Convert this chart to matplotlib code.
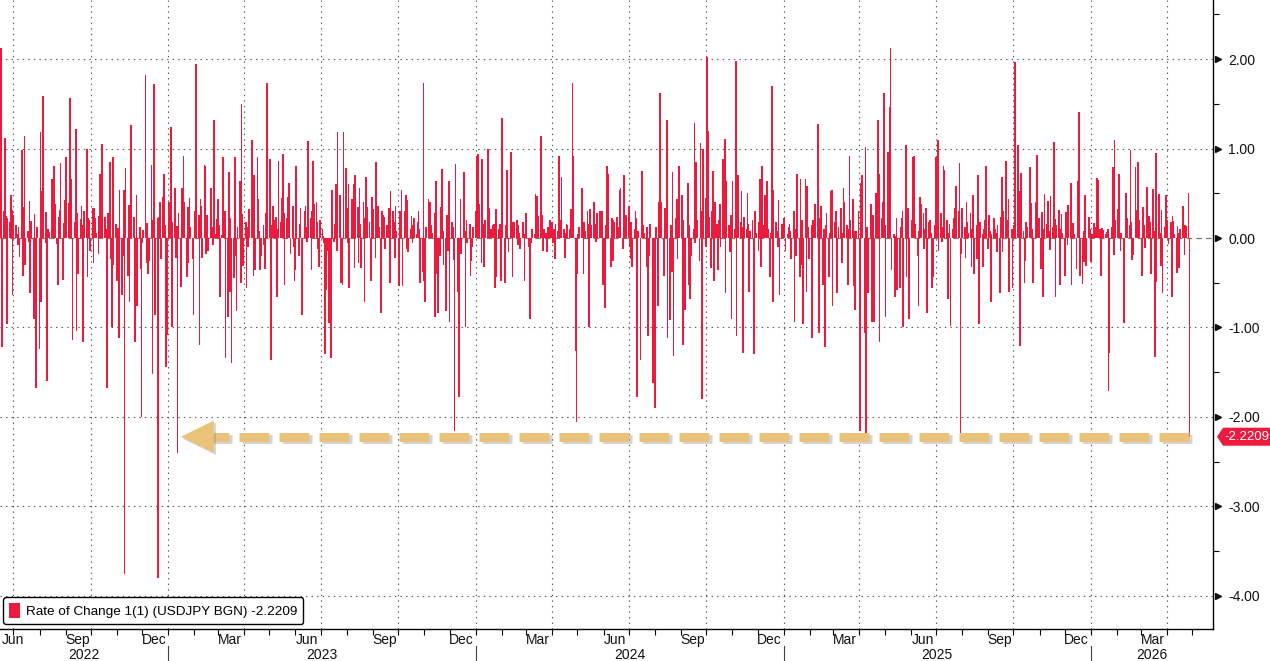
import numpy as np
import pandas as pd
import matplotlib
matplotlib.use("Agg")
import matplotlib.pyplot as plt
import matplotlib.dates as mdates
import matplotlib.transforms as mtransforms
import matplotlib.patheffects as pe
from matplotlib.patches import Patch, Polygon
from matplotlib.ticker import NullFormatter

plt.rcParams['font.family'] = ['Liberation Sans', 'DejaVu Sans']
plt.rcParams['axes.unicode_minus'] = False
plt.rcParams['lines.scale_dashes'] = False

# daily rate of change, USDJPY (%) in six stretches
roc_a = [
    2.12, -1.22, 0.30, 1.12, 0.25, -0.96, 0.22, 0.18, 0.48, 0.31,
    -0.64, 0.26, 0.14, 0.05, -0.08, 0.12, -0.21, 0.98, -0.42, 0.35,
    1.14, -0.30, 0.08, -0.05, 0.41, -0.62, 0.19, -0.90, 0.27, -0.55,
    -1.68, 0.12, -1.24, 1.18, -0.72, 0.52, 1.59, -0.06, 0.29, -1.60,
    0.10, 0.07, 0.28, 0.66, 0.45, 0.80, 0.38, -0.07, -0.52, 0.24,
    0.31, 0.84, -0.47, 0.17, 0.42, 0.90, 0.27, 0.39, 1.57, 0.64,
    0.66, -1.14, 0.18, 1.22, -1.04, 0.28, -0.40, 0.21, 0.36, 0.15,
    -1.16, 0.30, 1.00, -0.44, 0.22, 0.20, -0.15, 0.33, -0.28, 0.34,
    0.22, 0.06, -0.18, 0.25, 0.72, 0.24, 1.05, 0.14, 0.23, 0.10,
    -1.68, 0.28, 0.85, -0.24, -1.00, 0.90, -0.30, 0.16, -0.48, 0.11,
    -1.12, 0.54, -0.64, -0.20, 0.54, -3.76, 0.78, -0.42, 0.37, -0.71,
    0.50, 1.26, 0.23, -1.16, -0.26, 0.48, -0.76, 0.12, -0.35, -2.00,
    -0.06, 0.09, 1.82, -0.28, 0.17, -0.40, -0.26, 0.82, -1.52, 0.20,
    1.72, -0.86, 0.22, -3.80, 0.24, 0.40, -0.24, 0.46, 0.72, 0.15,
    -1.44, -1.08, 0.40, 0.14, 1.24, -1.00, 0.18, 0.56, -0.22, 0.13,
    -2.40, 0.28, -0.55, 0.56, 0.18, 0.92, 0.40, -0.44, 0.35, -0.28,
    0.45, 0.12, -0.24, -0.86, 0.30, 0.15, 1.95, 0.26, -1.20, 0.44,
]
roc_b = [
    0.36, -0.22, 0.82, 0.80, -0.18, 0.26, -0.15, 0.19, 0.56, 0.12,
    -0.08, 1.32, 0.05, 0.21, 0.44, 0.14, -0.66, 0.03, 0.90, 0.06,
    0.30, -1.34, -0.88, 0.74, -0.60, 0.22, -1.40, -0.45, 0.90, -0.20,
    -0.82, 0.12, 0.64, -0.50, 1.50, 0.27, -0.31, 0.18, -0.56, 0.12,
    -0.10, 0.32, 1.10, 0.16, -0.42, 0.70, -0.36, 0.90, 0.44, 0.08,
    -0.36, -0.20, 0.14, -0.08, -0.35, 0.28, 1.73, 0.12, 0.88, -1.36,
    0.15, 0.36, 0.20, 0.24, -0.66, 0.10, 0.86, 0.18, 0.45, 0.94,
    0.28, -0.52, 0.22, 0.46, 0.62, 0.08, -0.18, 0.36, -0.10, -0.48,
    -0.36, 0.80, -0.20, 0.16, 0.34, -0.12, -0.86, 0.30, 0.36, 0.12,
    -0.05, 1.08, 0.22, -0.36, 0.30, 0.86, 0.38, 0.40, 0.18, -0.12,
    -0.32, 0.20, 0.10, 0.02, -0.06, -1.30, -0.58, -0.14, -0.95, -0.40,
    -1.34, 0.54, -0.04, 0.16, 0.60, -0.15, 1.18, 0.48, -0.50, -0.38,
    -0.52, 1.18, 0.78, 0.34, -0.06, 0.60, -0.56, 0.44, 0.28, 0.60,
    -0.34, 0.70, 0.35, -0.28, 0.56, 0.16, -0.34, 0.40, -0.72, 0.22,
    0.68, 0.35, 0.18, -0.06, -0.48, 0.46, 0.32, -0.22, 0.85, 0.05,
    0.36, 0.12, -0.84, 0.30, 0.26, 0.24, -0.12, 0.14, 0.06, 0.34,
    -0.50, 0.52, 0.30, 0.18, -0.22, 0.36, 0.08, -0.54, 0.30,
]
roc_c = [
    0.12, 0.54, -0.54, 0.30, 0.48, -0.12, 0.42, -0.16, 0.10, 0.25,
    -0.06, 0.14, 0.22, 0.05, 0.18, 0.30, 0.10, -0.50, -0.38, 1.73,
    -0.48, -0.72, 0.12, 0.44, 0.20, 0.40, 0.15, 0.06, 0.28, -0.88,
    0.64, -0.40, -0.84, -0.20, 0.35, 0.77, 0.08, -0.30, -0.82, 0.26,
    -0.14, 0.64, -0.94, 0.18, 0.12, -0.25, -2.16, 0.83, -0.60, -1.78,
    -0.36, 0.44, -0.18, 0.74, 0.08, -1.00, 0.20, -0.06, 0.16, -0.42,
    -0.26, -0.10, 0.12, 0.30, 0.92, 0.24, 0.94, 0.38, -0.28, 0.88,
    0.16, -0.32, 0.20, 0.58, 1.00, 0.34, 0.06, 0.10, 0.14, 0.16,
    -0.56, 0.32, -0.44, 0.10, 0.16, -0.48, 1.34, 0.22, -0.50, 0.14,
    0.76, 0.20, -0.16, 0.96, 0.18, -0.44, 0.12, 0.18, 0.20, -0.08,
    0.14, 0.06, -0.12, 0.18, 0.12, -0.48, 0.05, 0.28, -0.10, -0.32,
    -0.90, -0.06, 0.10, 0.04, 0.49, 0.12, 0.47, 0.25, 0.08, 1.14,
    0.26, -0.14, 0.10, 0.06, -0.16, 0.12, 0.08, 0.20, 0.18, -0.06,
    0.10, -0.24, 0.16, 0.08, 0.92, 0.20, 0.12, 0.68, 0.10, -0.22,
    0.06, 0.16, 0.14, 0.10, 0.32, 0.22, 1.73, 0.92, -1.26, -2.06,
    -0.40, 0.05, 0.12, 0.56, 0.54, -0.40, 0.18, 0.08, 0.30, 0.16,
    -1.00, 0.32, 0.14, 0.24, 0.40, 0.16, -0.04, 0.28, 0.20, 0.30,
]
roc_d = [
    0.22, 0.30, -0.52, -0.78, 0.14, 0.80, 0.72, 0.10, -0.32, 0.22,
    -0.26, 0.20, 0.18, 0.24, 0.05, 0.12, 0.54, 0.56, -0.12, 0.70,
    0.16, 0.08, 0.26, 0.36, -0.10, -0.24, 0.18, -0.32, 0.10, 0.30,
    0.22, -1.78, 0.08, -1.36, 0.18, 0.75, 0.14, 0.06, -0.32, 0.12,
    -1.10, -0.20, 0.16, -0.80, -1.62, -0.44, -1.90, 0.12, -0.76, 0.40,
    1.62, 0.20, 0.40, -0.42, 0.34, 0.12, 1.32, -1.12, -0.92, 0.14,
    -0.38, 0.74, -1.32, 0.22, 0.44, -0.24, 0.30, 0.81, 0.48, -1.20,
    0.20, -0.30, -0.80, 0.62, -0.52, 0.14, -0.68, -0.20, 0.10, 1.28,
    -0.06, 0.85, 0.20, -0.26, 1.06, 0.30, -1.80, 1.00, 0.45, -0.10,
    2.02, 1.20, 0.24, -0.34, 0.30, 0.75, -0.48, 0.40, 0.16, -0.36,
    0.20, 0.38, -0.10, 0.88, 0.28, 1.11, -0.62, 0.64, 0.14, -0.16,
    0.26, -0.90, 0.64, 0.10, 1.98, -1.10, 0.30, 0.70, 0.18, 0.52,
    0.12, -1.28, 0.24, 0.10, 0.50, 0.16, -0.60, 0.08, 0.20, -0.76,
    -1.30, 0.30, 0.06, -0.14, 0.18, 0.66, -0.32, 0.80, 0.14, 0.48,
    0.22, 0.64, 0.10, -0.44, 0.06, 1.70, -0.72, 0.54, 0.18, 0.08,
    -0.10, 0.42, -0.64, 0.16, 0.04, 0.22, 0.10, -0.14, 0.05, 0.12,
    0.16, 0.08, -0.24, 0.30, -0.94, 0.10, -0.20, 0.72, -0.44,
]
roc_e = [
    0.66, -0.30, 0.20, -0.96, 0.66, -0.60, 0.58, 0.12, -0.24, 0.14,
    -1.12, 0.20, 0.06, 0.38, 0.12, 1.27, -1.06, 0.22, 0.36, -0.52,
    0.10, -1.22, 0.14, 0.28, -0.44, 0.06, 0.52, 0.54, -0.76, 0.18,
    0.30, -0.62, -0.48, 0.12, 0.34, -0.28, 0.06, 0.56, 0.40, 0.14,
    -0.52, 0.10, 0.92, 0.20, 0.44, -0.54, 0.08, -0.80, 0.08, 0.30,
    -0.24, -2.16, 0.62, 0.70, -1.06, 1.02, -2.24, 0.12, -0.62, 0.10,
    0.38, -0.94, 0.26, -0.94, 0.50, 0.30, 1.32, 0.72, -1.16, 0.22,
    0.40, 1.62, 0.14, -0.88, 0.96, 0.34, 1.46, 2.12, -0.36, 0.04,
    -0.66, 0.02, 0.22, -0.58, -0.56, 0.12, 0.22, 0.30, -1.00, 1.04,
    -0.44, 0.10, 0.34, -0.90, 0.20, 0.90, 0.42, 0.92, 0.16, -0.20,
    -0.76, 0.08, 0.46, 0.38, 0.28, -0.12, 0.10, 0.34, -0.84, 0.18,
    0.20, 0.06, -0.56, -0.44, 0.14, 0.90, 0.24, 1.10, -0.14, 0.28,
    -0.04, 0.12, 0.80, 0.76, 0.20, -0.68, 0.06, 0.16, -0.98, 0.10,
    0.22, 0.34, 0.14, 0.58, 0.30, 0.84, -2.24, -0.18, 0.34, 0.12,
    -0.22, 0.40, 0.18, 0.06, 0.28, -0.32, 0.10, 0.48, -0.40, 0.14,
    -0.24, 0.70, -0.96, 0.18, 0.04, -0.32, 0.10, 0.20, 0.80, -0.12,
    0.26, 0.08, -0.72, 0.04, 0.22, 0.10, 0.06, -0.16, 0.14, -0.62,
]
roc_f = [
    0.24, 0.68, -0.16, 0.30, 0.86, 0.18, 0.20, 0.44, -0.60, 0.10,
    -0.56, 0.14, 0.06, 1.97, 1.04, 0.22, 0.52, -1.21, 0.73, 0.08,
    -0.50, -0.26, 0.18, 0.12, 0.30, 0.79, 0.39, 0.10, -0.50, 0.06,
    0.40, 0.93, 0.15, 0.22, -0.35, 0.29, -0.66, 0.10, 0.49, 0.16,
    0.41, 0.08, -0.13, 0.47, 0.12, 1.07, 0.21, -0.66, 0.14, 0.31,
    -0.52, 0.10, 0.27, 0.06, -0.43, 0.29, 0.15, -0.08, 0.37, 0.62,
    -0.52, 0.10, 0.17, 0.04, -0.35, 0.12, 0.64, 1.41, -0.43, -0.51,
    0.08, -0.27, 0.48, -0.31, 0.06, 0.23, 0.10, -0.27, 0.05, 0.17,
    0.08, 0.12, 0.67, 0.65, 0.10, -0.43, 0.11, 0.06, 0.09, 0.04,
    0.07, 0.10, -1.71, -1.29, 0.12, 0.79, -0.19, 1.10, 0.20, 0.32,
    0.72, 0.08, -0.15, 0.06, -0.95, -0.76, 0.10, 0.50, 0.22, 0.14,
    0.98, 0.18, -0.25, -0.19, 0.79, 0.12, 0.31, 0.85, 0.20, -0.07,
    -0.43, 0.35, 0.14, -0.11, 0.57, 0.10, 0.25, 0.18, -0.40, 0.55,
    0.08, -1.33, 0.95, -0.49, 0.49, 0.06, -0.31, 0.31, -0.61, 0.12,
    0.48, 0.08, 0.20, -0.07, 0.18, -0.66, 0.25, 0.19, 0.04, -0.39,
    0.13, 0.06, -0.33, 0.10, 0.36, 0.08, -0.19, 0.14, 0.13, 0.50,
    -2.2209,
]

roc = np.array(roc_a + roc_b + roc_c + roc_d + roc_e + roc_f)
dates = pd.bdate_range('2022-06-16', periods=len(roc))

x_start = pd.Timestamp('2022-06-15')
x_end = pd.Timestamp('2026-05-26')
y_ticks = [2, 1, 0, -1, -2, -3, -4]
label_months = [3, 6, 9, 12]
years = [2022, 2023, 2024, 2025, 2026]
arrow_tip = pd.Timestamp('2023-01-16')
arrow_base = pd.Timestamp('2023-02-24')
series_name = 'Rate of Change 1(1) (USDJPY BGN)'

RED = '#EC1A3D'
GOLD = '#E9C37A'
GRID = '#555555'
W, H = 1270, 661

fig = plt.figure(figsize=(W / 100, H / 100), dpi=100)
ax = fig.add_axes([0, 32 / H, 1213 / W, 629 / H])

ax.bar(dates, roc, width=2.0, color=RED, linewidth=0, zorder=3)

# grid
for q in pd.date_range('2022-07-01', x_end, freq='QS'):
    ax.axvline(q, color=GRID, lw=0.8, ls=(0, (1, 3)), zorder=1)
for v in y_ticks:
    if v == 0:
        ax.axhline(0, color='#777777', lw=0.9, ls=(0, (4, 3)), zorder=2)
    else:
        ax.axhline(v, color=GRID, lw=0.8, ls=(0, (1, 3)), zorder=1)

ax.set_xlim(x_start, x_end)
ax.set_ylim(-4.37, 2.66)

for s in ['top', 'left']:
    ax.spines[s].set_visible(False)
for s in ['right', 'bottom']:
    ax.spines[s].set_color('black')
    ax.spines[s].set_linewidth(1.0)

# y axis on the right
ax.yaxis.tick_right()
ax.set_yticks(y_ticks)
ax.set_yticklabels([f'{v:.2f}' for v in y_ticks])
ax.set_yticks(np.arange(-3.5, 2.6, 1.0), minor=True)
ax.tick_params(axis='y', which='major', length=0, pad=11, labelsize=10, labelcolor='#111111')
ax.tick_params(axis='y', which='minor', length=4, width=0.8, direction='out', color='black')
ytrans = mtransforms.blended_transform_factory(ax.transAxes, ax.transData)
ax.plot([1.0045] * len(y_ticks), y_ticks, ls='none', marker='>', ms=5, color='#111111',
        transform=ytrans, clip_on=False)

# x axis: month ticks, labels mid-month
ax.xaxis.set_major_locator(mdates.MonthLocator())
ax.xaxis.set_major_formatter(NullFormatter())
ax.tick_params(axis='x', which='major', length=4, width=0.8, direction='out', color='black')

xtrans = mtransforms.blended_transform_factory(ax.transData, fig.transFigure)
for m in pd.date_range('2022-06-01', x_end, freq='MS'):
    if m.month not in label_months:
        continue
    mid = max(m + pd.Timedelta(days=14), x_start + pd.Timedelta(days=15))
    ax.text(mid, 1 - 640 / H, m.strftime('%b'), transform=xtrans, ha='center', va='center',
            fontsize=10, color='#111111')
for yr in years:
    a = max(pd.Timestamp(f'{yr}-01-01'), x_start)
    b = min(pd.Timestamp(f'{yr + 1}-01-01'), x_end)
    ax.text(a + (b - a) / 2, 1 - 655 / H, str(yr), transform=xtrans, ha='center', va='center',
            fontsize=10, color='#111111')
    if yr > years[0]:
        ax.plot([a, a], [0, 1 - 646 / H], transform=xtrans, color='#444444', lw=0.8, clip_on=False)

# dashed golden arrow at the latest level
last = roc[-1]
ax.plot([dates[-1], arrow_base - pd.Timedelta(days=4)], [last, last], color=GOLD, lw=6.5,
        dashes=(21.6, 7.2), dash_capstyle='butt', zorder=4,
        path_effects=[pe.SimpleLineShadow(offset=(1.5, -1.5), shadow_color='#888888', alpha=0.35),
                      pe.Normal()])
tip, base = mdates.date2num(arrow_tip), mdates.date2num(arrow_base)
head = Polygon([[tip, last], [base, last + 0.18], [base, last - 0.18]], closed=True,
               facecolor=GOLD, edgecolor='none', zorder=4,
               path_effects=[pe.SimplePatchShadow(offset=(1.5, -1.5), shadow_rgbFace='#888888', alpha=0.35),
                             pe.Normal()])
ax.add_patch(head)

# legend
leg = ax.legend(handles=[Patch(facecolor=RED, label=f'{series_name} {last:.4f}')],
                loc='lower left', bbox_to_anchor=(3 / 1213, 5 / 629), borderaxespad=0,
                fancybox=True, framealpha=1, edgecolor='black', fontsize=9.7,
                handlelength=0.8, handleheight=1.25, handletextpad=0.45, borderpad=0.45)
leg.get_frame().set_linewidth(1.0)

# value tag on the right axis
fig.canvas.draw()
ty = ax.transData.transform((0, last))[1]
tag = Polygon([[1217, ty], [1223, ty + 9], [W, ty + 9], [W, ty - 9], [1223, ty - 9]], closed=True,
              facecolor=RED, edgecolor='none', transform=mtransforms.IdentityTransform())
fig.add_artist(tag)
fig.text(1224 / W, ty / H, f'{last:.4f}', color='white', ha='left', va='center', fontsize=9.5)

fig.savefig('out.png', dpi=100)
